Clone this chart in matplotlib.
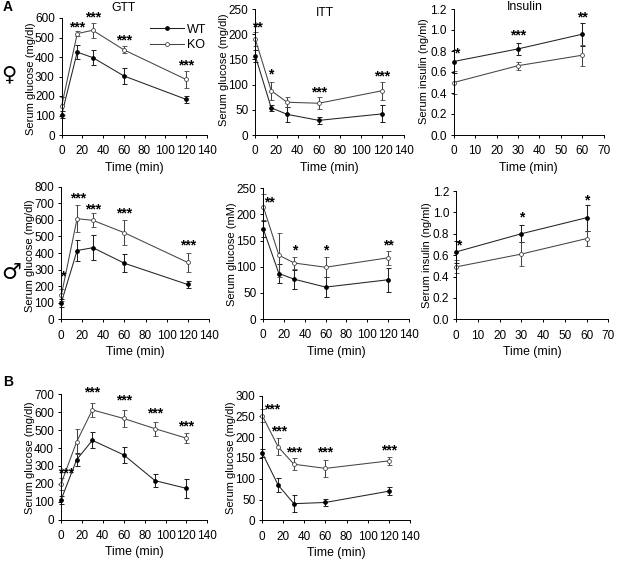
import matplotlib
matplotlib.use("Agg")
import matplotlib.pyplot as plt

narrow = ['Liberation Sans Narrow', 'Liberation Sans', 'DejaVu Sans']
plt.rcParams['font.family'] = narrow
plt.rcParams['font.size'] = 8.5

W, H = 626, 561

t5 = [0, 15, 30, 60, 120]
t6 = [0, 15, 30, 60, 90, 120]
t3 = [0, 30, 60]

# female GTT
gtt_f_wt = [105, 425, 397, 303, 183]
gtt_f_wt_err = [20, 37, 40, 43, 18]
gtt_f_ko = [150, 520, 537, 437, 285]
gtt_f_ko_err = [45, 12, 38, 18, 43]
gtt_f_stars = [(15, 552, '***'), (30, 603, '***'), (60, 485, '***'), (120, 355, '***')]

# female ITT
itt_f_wt = [157, 54, 41, 29, 42]
itt_f_wt_err = [12, 6, 15, 7, 17]
itt_f_ko = [190, 88, 65, 63, 88]
itt_f_ko_err = [14, 18, 10, 12, 18]
itt_f_stars = [(2, 214, '**'), (15, 121, '*'), (60, 85, '***'), (120, 116, '***')]

# female insulin
ins_f_wt = [0.70, 0.82, 0.96]
ins_f_wt_err = [0.11, 0.06, 0.11]
ins_f_ko = [0.50, 0.66, 0.76]
ins_f_ko_err = [0.11, 0.04, 0.10]
ins_f_stars = [(1.4, 0.776, '*'), (30, 0.945, '***'), (60, 1.12, '**')]

# male GTT
gtt_m_wt = [100, 415, 432, 338, 210]
gtt_m_wt_err = [25, 62, 75, 55, 20]
gtt_m_ko = [145, 607, 597, 522, 343]
gtt_m_ko_err = [35, 82, 42, 75, 55]
gtt_m_stars = [(1, 257, '*'), (15.5, 730, '***'), (30, 663, '***'), (60, 637, '***'), (120, 444, '***')]

# male ITT
itt_m_wt = [172, 87, 76, 61, 75]
itt_m_wt_err = [15, 18, 18, 19, 23]
itt_m_ko = [215, 122, 107, 99, 117]
itt_m_ko_err = [25, 42, 12, 19, 13]
itt_m_stars = [(6, 223, '**'), (30, 132, '*'), (60, 132, '*'), (120, 141, '**')]

# male insulin
ins_m_wt = [0.63, 0.80, 0.95]
ins_m_wt_err = [0.10, 0.08, 0.12]
ins_m_ko = [0.49, 0.61, 0.755]
ins_m_ko_err = [0.06, 0.11, 0.07]
ins_m_stars = [(1.2, 0.694, '*'), (30, 0.95, '*'), (60, 1.115, '*')]

# panel B
gtt_b_wt = [110, 335, 443, 362, 218, 175]
gtt_b_wt_err = [20, 38, 45, 43, 38, 52]
gtt_b_ko = [200, 435, 613, 565, 508, 455]
gtt_b_ko_err = [35, 70, 38, 47, 40, 27]
gtt_b_stars = [(4.5, 257, '***'), (30, 711, '***'), (60, 665, '***'), (90, 592, '***'), (120, 522, '***')]

itt_b_wt = [162, 85, 40, 43, 70]
itt_b_wt_err = [10, 18, 20, 8, 9]
itt_b_ko = [252, 177, 135, 125, 143]
itt_b_ko_err = [16, 20, 15, 20, 10]
itt_b_stars = [(9, 267, '***'), (16, 214, '***'), (30, 164, '***'), (60, 164, '***'), (120, 169, '***')]

glucose_label = 'Serum glucose (mg/dl)'
insulin_label = 'Serum insulin (ng/ml)'


def fig_text(px, py, s, **kw):
    fig.text(px / W, 1 - py / H, s, ha='center', va='center', **kw)


def panel(fig, box, x, wt, wt_err, ko, ko_err, stars, xticks, yticks, yfmt, ylabel, ylabel_at):
    # box is left, right, top, bottom in pixels of the image
    l, r, t, b = box
    ax = fig.add_axes([l / W, 1 - b / H, (r - l) / W, (b - t) / H])
    ax.errorbar(x, wt, yerr=wt_err, color='#222222', lw=0.75, elinewidth=0.75, capsize=1.8, capthick=0.75,
                marker='o', ms=2.4, mfc='black', mec='black', clip_on=False)
    ax.errorbar(x, ko, yerr=ko_err, color='#444444', lw=0.75, elinewidth=0.75, capsize=1.8, capthick=0.75,
                marker='o', ms=2.8, mfc='white', mec='#444444', mew=0.6, clip_on=False)
    for sx, sy, s in stars:
        ax.text(sx, sy, s, ha='center', va='center', fontsize=10, fontweight='bold', color='black',
                family='Liberation Sans')
    ax.set_xlim(xticks[0], xticks[-1])
    ax.set_ylim(yticks[0], yticks[-1])
    ax.set_xticks(xticks)
    ax.set_yticks(yticks)
    ax.set_yticklabels([yfmt.format(v) for v in yticks])
    ax.spines['top'].set_visible(False)
    ax.spines['right'].set_visible(False)
    ax.spines['left'].set_linewidth(0.7)
    ax.spines['bottom'].set_linewidth(0.7)
    ax.tick_params(length=2.5, width=0.7, pad=2.5, labelsize=8.5)
    ax.tick_params(axis='x', pad=5)
    ax.set_xlabel('Time (min)', fontsize=8.8, labelpad=3)
    # the y titles keep their full length in the reference, only the x direction is squeezed
    fig_text(ylabel_at[0], ylabel_at[1], ylabel, rotation=90, fontsize=8, family='Liberation Sans')
    return ax


fig = plt.figure(figsize=(W / 100, H / 100), dpi=100)

x140 = [0, 20, 40, 60, 80, 100, 120, 140]
x70 = [0, 10, 20, 30, 40, 50, 60, 70]

ax1 = panel(fig, (61.7, 206.7, 18, 135), t5, gtt_f_wt, gtt_f_wt_err, gtt_f_ko, gtt_f_ko_err, gtt_f_stars,
            x140, [0, 100, 200, 300, 400, 500, 600], '{:d}', glucose_label, (30.5, 79))
panel(fig, (255.3, 403.7, 9, 135), t5, itt_f_wt, itt_f_wt_err, itt_f_ko, itt_f_ko_err, itt_f_stars,
      x140, [0, 50, 100, 150, 200, 250], '{:d}', glucose_label, (224, 70))
panel(fig, (453.7, 603.7, 9, 135), t3, ins_f_wt, ins_f_wt_err, ins_f_ko, ins_f_ko_err, ins_f_stars,
      x70, [0.0, 0.2, 0.4, 0.6, 0.8, 1.0, 1.2], '{:.1f}', insulin_label, (424, 71))

panel(fig, (61.3, 208.7, 186.7, 319.3), t5, gtt_m_wt, gtt_m_wt_err, gtt_m_ko, gtt_m_ko_err, gtt_m_stars,
      x140, [0, 100, 200, 300, 400, 500, 600, 700, 800], '{:d}', glucose_label, (30, 255.5))
panel(fig, (263.3, 408.7, 188.3, 319), t5, itt_m_wt, itt_m_wt_err, itt_m_ko, itt_m_ko_err, itt_m_stars,
      x140, [0, 50, 100, 150, 200, 250], '{:d}', 'Serum glucose (mM)', (232, 254))
panel(fig, (456, 608.3, 191, 319.3), t3, ins_m_wt, ins_m_wt_err, ins_m_ko, ins_m_ko_err, ins_m_stars,
      x70, [0.0, 0.2, 0.4, 0.6, 0.8, 1.0, 1.2], '{:.1f}', insulin_label, (427, 254.7))

panel(fig, (61, 207.3, 394.3, 519.7), t6, gtt_b_wt, gtt_b_wt_err, gtt_b_ko, gtt_b_ko_err, gtt_b_stars,
      x140, [0, 100, 200, 300, 400, 500, 600, 700], '{:d}', glucose_label, (30, 458))
panel(fig, (262.3, 409.7, 395.7, 520.3), t5, itt_b_wt, itt_b_wt_err, itt_b_ko, itt_b_ko_err, itt_b_stars,
      x140, [0, 50, 100, 150, 200, 250, 300], '{:d}', glucose_label, (231, 457.5))

# legend only in the first panel, no error bars in the keys
handles = [plt.Line2D([], [], color='#222222', lw=0.75, marker='o', ms=2.4, mfc='black', mec='black'),
           plt.Line2D([], [], color='#444444', lw=0.75, marker='o', ms=2.8, mfc='white', mec='#444444', mew=0.6)]
ax1.legend(handles, ['WT', 'KO'], loc='upper left', bbox_to_anchor=((146 - 61.7) / 145, 0.985), frameon=False,
           fontsize=9, handlelength=2.7, handletextpad=0.3, labelspacing=0.3, borderpad=0.3, borderaxespad=0)

fig_text(123, 8, 'GTT', fontsize=8.8)
fig_text(325, 13, 'ITT', fontsize=8.8)
fig_text(525, 7, 'Insulin', fontsize=8.8)
fig_text(8, 7, 'A', fontsize=10, fontweight='bold', family='Liberation Sans')
fig_text(8, 382, 'B', fontsize=10, fontweight='bold', family='Liberation Sans')
fig_text(8.5, 74, '♀', fontsize=15, family='DejaVu Sans')
fig_text(11, 273, '♂', fontsize=16, family='DejaVu Sans')

fig.savefig('out.png', dpi=100)
